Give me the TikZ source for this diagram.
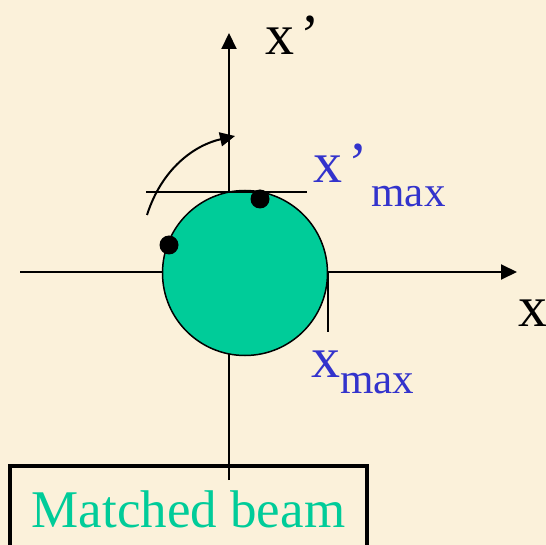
\documentclass[tikz,border=0pt]{standalone}
\usepackage{fontspec}
\setmainfont{Liberation Serif}
\usepackage{tikz}
\usetikzlibrary{arrows.meta,positioning,shapes.geometric}
\usepackage{xcolor}
\definecolor{parchment}{RGB}{251,241,218}
\definecolor{beamGreen}{RGB}{0,204,153}
\definecolor{labelBlue}{RGB}{51,51,204}
\newcommand{\bigsz}{\fontsize{58}{60}\selectfont}
\newcommand{\subsz}{\fontsize{43}{45}\selectfont}

\begin{document}
\begin{tikzpicture}[x=1pt, y=-1pt,
  axis/.style={line width=2pt, -{Triangle[length=16pt,width=15pt]}},
  thin line/.style={line width=2pt},
  dot/.style={circle, fill=black, inner sep=0pt, minimum size=19pt},
  lbl/.style={anchor=base west, inner sep=0pt, font=\bigsz},
  framebox/.style={rectangle, draw, line width=4pt, minimum width=357pt,
                   minimum height=86pt, anchor=north, text=beamGreen,
                   font=\fontsize{53}{55}\selectfont}
]
  % background
  \fill[parchment] (0,0) rectangle (546,545);
  \useasboundingbox (0,0) rectangle (546,545);

  % axes
  \coordinate (xleft) at (20,272);
  \coordinate (xright) at (517,272);
  \coordinate (ybottom) at (229,480);
  \coordinate (ytop) at (229,33);
  \draw[axis] (xleft) -- (xright);
  \draw[axis] (ybottom) -- (ytop);

  % beam ellipse
  \node[circle, draw, line width=1.5pt, fill=beamGreen, minimum size=165pt,
        inner sep=0pt] (beam) at (245,273) {};

  % tangent marks
  \coordinate (tanL) at (146,192);
  \coordinate (tanR) at (307,192);
  \coordinate (tickT) at (328,272);
  \coordinate (tickB) at (328,332);
  \draw[thin line] (tanL) -- (tanR);
  \draw[thin line] (tickT) -- (tickB);

  % particles
  \node[dot] (p1) at (260,199) {};
  \node[dot] (p2) at (169,245) {};

  % rotation arrow
  \coordinate (rotS) at (147,215);
  \coordinate (rotE) at (235,136);
  \draw[line width=2pt, -{Triangle[length=15pt,width=14pt]}]
    (rotS) .. controls (162,168) and (195,145) .. (rotE);

  % labels
  \node[lbl] (lxp) at (265,55) {x\kern6pt’};
  \node[lbl] (lx) at (518,326) {x};
  \node[lbl, text=labelBlue] (lxpmax) at (313,183)
    {x\kern6pt’\kern4pt\raisebox{-24pt}{\subsz max}};
  \node[lbl, text=labelBlue] (lxmax) at (311,377)
    {x\raisebox{-16pt}{\subsz max}};

  \node[framebox] (matched) at (188.5,464) {Matched beam};
\end{tikzpicture}
\end{document}
